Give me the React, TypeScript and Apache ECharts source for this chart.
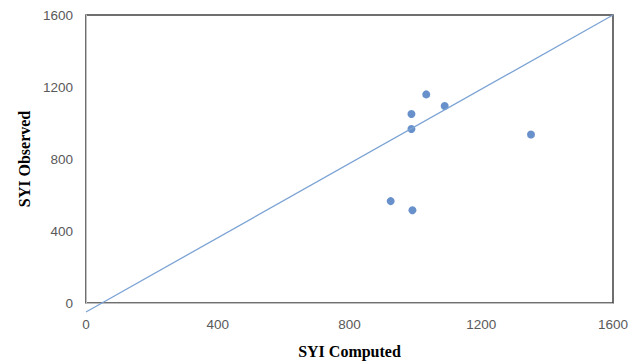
import React, { useEffect, useRef } from "react";
import * as echarts from "echarts";

const computed = [925, 991, 988, 988, 1033, 1089, 1351];
const observed = [566, 515, 1050, 967, 1159, 1094, 936];
const fitLineX = [0, 1600];
const fitLineY = [-50, 1600];
const axisTicks = [0, 400, 800, 1200, 1600];

export default function App() {
  const ref = useRef<HTMLDivElement>(null);
  useEffect(() => {
    if (!ref.current) return;
    const chart = echarts.init(ref.current, undefined, { renderer: "svg" });
    const labelStyle = {
      color: "#595959",
      fontSize: 13.5,
      fontFamily: "Liberation Sans, Arial, sans-serif",
      formatter: (v: number) => String(v),
    };
    const nameStyle = { color: "#000", fontSize: 16, fontWeight: "bold" as const, fontFamily: "Liberation Serif, Times New Roman, serif" };
    chart.setOption({
      animation: false,
      backgroundColor: "#fff",
      grid: { left: 86, right: 31, top: 15, bottom: 60, show: true, borderColor: "#404040", borderWidth: 1.5 },
      xAxis: {
        type: "value",
        min: axisTicks[0],
        max: axisTicks[axisTicks.length - 1],
        interval: 400,
        splitLine: { show: false },
        axisTick: { show: false },
        axisLine: { show: true, lineStyle: { color: "#bfbfbf", width: 1 } },
        axisLabel: { ...labelStyle, margin: 14 },
        name: "SYI Computed",
        nameLocation: "middle",
        nameGap: 40,
        nameTextStyle: nameStyle,
      },
      yAxis: {
        type: "value",
        min: axisTicks[0],
        max: axisTicks[axisTicks.length - 1],
        interval: 400,
        splitLine: { show: false },
        axisTick: { show: false },
        axisLine: { show: true, lineStyle: { color: "#bfbfbf", width: 1 } },
        axisLabel: { ...labelStyle, margin: 13 },
        name: "SYI Observed",
        nameLocation: "middle",
        nameGap: 49,
        nameTextStyle: nameStyle,
      },
      series: [
        {
          type: "line",
          data: fitLineX.map((x, i) => [x, fitLineY[i]]),
          showSymbol: false,
          clip: false,
          lineStyle: { color: "#7ba3d4", width: 1.3 },
          silent: true,
        },
        {
          type: "scatter",
          data: computed.map((x, i) => [x, observed[i]]),
          symbolSize: 8,
          itemStyle: { color: "#4276bf" },
        },
      ],
    });
    return () => chart.dispose();
  }, []);
  return <div ref={ref} style={{ width: 644, height: 364, position: "absolute", left: 0, top: 0 }} />;
}
